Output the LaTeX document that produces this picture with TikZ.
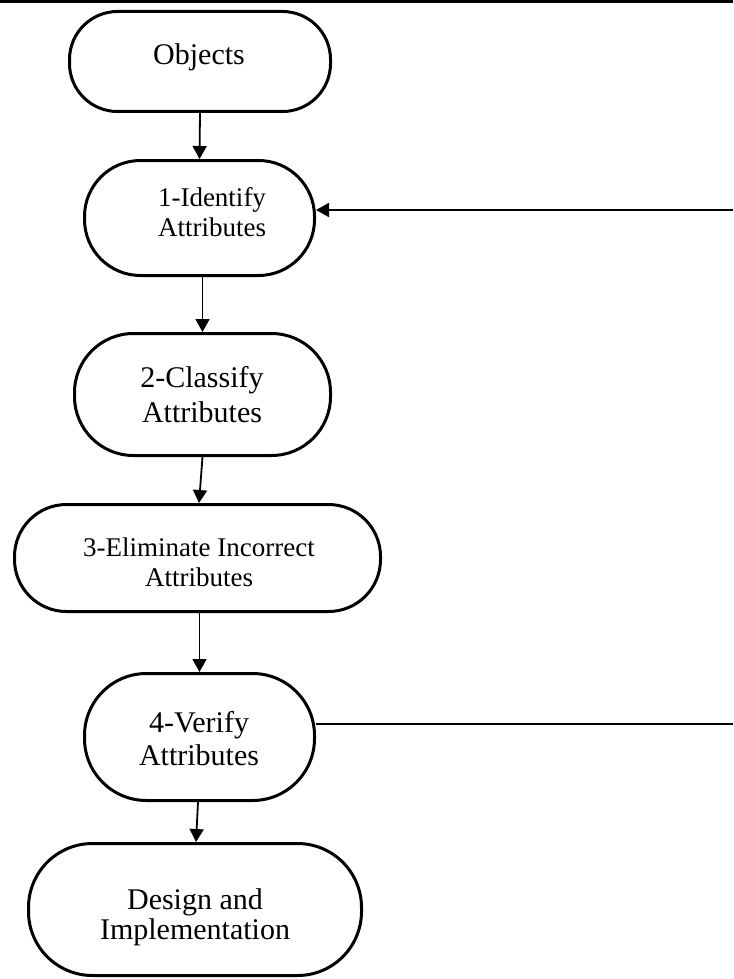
\documentclass[tikz,border=0pt]{standalone}
\usepackage{fontspec}
\setmainfont{Liberation Serif}
\usetikzlibrary{arrows.meta}
\begin{document}
\begin{tikzpicture}[x=1pt,y=-1pt,
  box/.style={draw, line width=3pt, inner sep=0pt},
  lbl/.style={align=center, inner sep=0pt},
  bigtxt/.style={font=\fontsize{30}{34}\selectfont},
  smalltxt/.style={font=\fontsize{27}{30}\selectfont},
  arr/.style={line width=1.8pt, -{Triangle[length=13pt,width=14pt]}},
  conn/.style={line width=1.8pt}]
\useasboundingbox (0,0) rectangle (733,979);
\draw[line width=2.7pt] (0,1.35) -- (733,1.35);
% boxes
\node[box, minimum width=261pt, minimum height=100pt, rounded corners=48pt] (obj) at (200,61.5) {};
\node[lbl, bigtxt] (objt) at (199,57) {Objects};
\node[box, minimum width=230pt, minimum height=115pt, rounded corners=56pt] (id1) at (199.5,218) {};
\node[lbl, smalltxt] (id1t) at (212,212) {1-Identify\\Attributes};
\node[box, minimum width=256pt, minimum height=122pt, rounded corners=59pt] (cls) at (202.5,394.5) {};
\node[lbl, font=\fontsize{30}{35}\selectfont] (clst) at (202,394.5) {2-Classify\\Attributes};
\node[box, minimum width=366pt, minimum height=107pt, rounded corners=52pt] (elim) at (197.5,558) {};
\node[lbl, smalltxt] (elimt) at (199,562) {3-Eliminate Incorrect\\Attributes};
\node[box, minimum width=230pt, minimum height=127pt, rounded corners=62pt] (ver) at (199.5,737) {};
\node[lbl, font=\fontsize{30}{33}\selectfont] (vert) at (199,738.5) {4-Verify\\Attributes};
\node[box, minimum width=333pt, minimum height=132pt, rounded corners=64pt] (des) at (195,909.5) {};
\node[lbl, font=\fontsize{30}{30}\selectfont] (dest) at (195,917) {Design and\\Implementation};
% connectors
\draw[arr] (obj.south) -- (id1.north);
\draw[arr] (id1.south -| cls.north) -- (cls.north);
\draw[arr] (cls.south) -- ([xshift=1.5pt]elim.north);
\draw[arr] (elim.south -| ver.north) -- (ver.north);
\draw[arr] ([xshift=-1.5pt]ver.south) -- ([xshift=1pt]des.north);
\coordinate (rin) at (733,210);
\draw[arr] (rin) -- (rin -| id1.east);
\coordinate (rout) at (733,724);
\draw[conn] (rout -| ver.east) -- (rout);
\end{tikzpicture}
\end{document}
